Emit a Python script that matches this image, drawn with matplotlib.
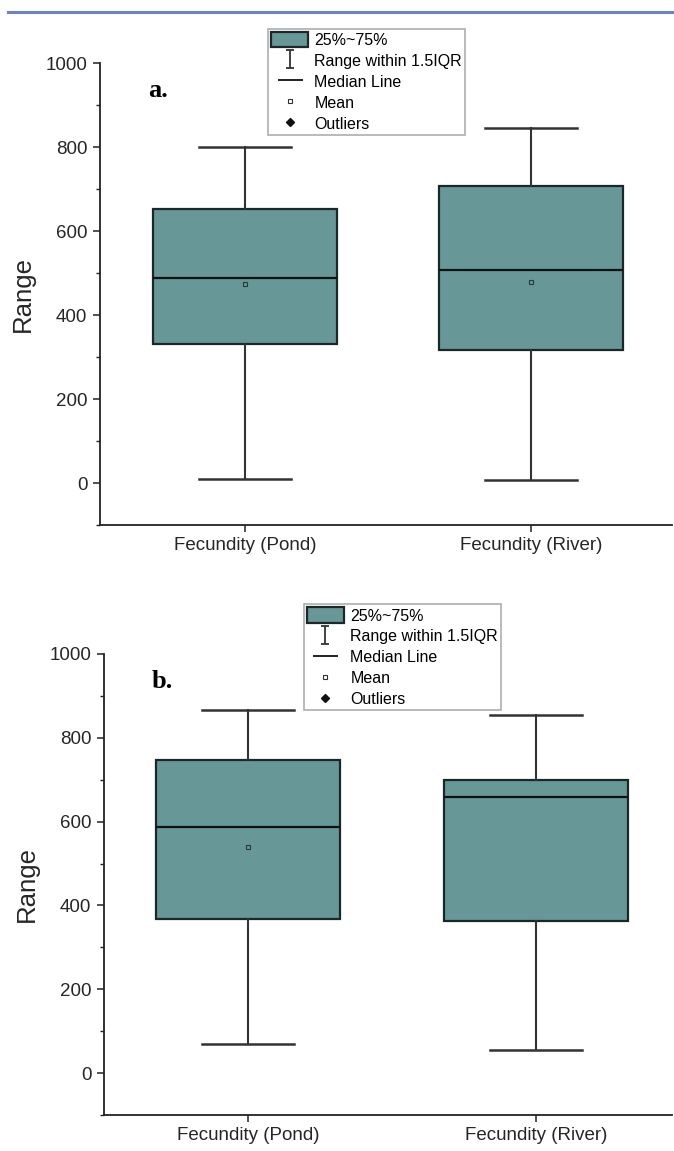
# Box plots of fecundity, pond vs river (panels a and b)
import numpy as np
import matplotlib.pyplot as plt
from matplotlib.patches import Patch
from matplotlib.lines import Line2D
from matplotlib.path import Path
from matplotlib.ticker import MultipleLocator

plt.rcParams['font.family'] = ['Liberation Sans', 'DejaVu Sans']

# data
groups = ['Fecundity (Pond)', 'Fecundity (River)']

a_whislo = [10, 6]
a_q1 = [330, 316]
a_med = [489, 506]
a_q3 = [653, 706]
a_whishi = [799, 845]
a_mean = [475, 478]

b_whislo = [69, 54]
b_q1 = [368, 364]
b_med = [588, 659]
b_q3 = [748, 699]
b_whishi = [866, 855]
b_mean = [540, np.nan]  # river mean marker not visible in panel b

legend_labels = ['25%~75%', 'Range within 1.5IQR', 'Median Line', 'Mean', 'Outliers']

box_color = '#679797'
edge_color = '#1c2828'
line_color = '#333333'


def make_stats(lo, q1, med, q3, hi, mean):
    out = []
    for i in range(len(groups)):
        out.append(dict(whislo=lo[i], q1=q1[i], med=med[i], q3=q3[i],
                        whishi=hi[i], mean=mean[i], fliers=[], label=groups[i]))
    return out


ibeam = Path([(-0.5, 1), (0.5, 1), (0, 1), (0, -1), (-0.5, -1), (0.5, -1)],
             [Path.MOVETO, Path.LINETO, Path.MOVETO, Path.LINETO, Path.MOVETO, Path.LINETO])


def draw_panel(ax, stats, letter, xlim, leg_anchor):
    ax.bxp(stats, positions=[1, 2], widths=0.64, capwidths=0.32,
           patch_artist=True, showmeans=True, showfliers=False,
           boxprops=dict(facecolor=box_color, edgecolor=edge_color, linewidth=1.6),
           medianprops=dict(color='#111111', linewidth=1.6, zorder=4),
           whiskerprops=dict(color=line_color, linewidth=1.5),
           capprops=dict(color=line_color, linewidth=1.8),
           meanprops=dict(marker='s', markersize=3.5, markerfacecolor='none',
                          markeredgecolor='#2a3a3a', markeredgewidth=0.8, zorder=3))
    ax.set_xlim(*xlim)
    ax.set_ylim(-100, 1000)
    ax.yaxis.set_major_locator(MultipleLocator(200))
    ax.yaxis.set_minor_locator(MultipleLocator(100))
    ax.set_xticks([1, 2])
    ax.set_xticklabels(groups)
    for s in ['top', 'right']:
        ax.spines[s].set_visible(False)
    for s in ['left', 'bottom']:
        ax.spines[s].set_color('#222222')
        ax.spines[s].set_linewidth(1.3)
    ax.tick_params(axis='both', which='major', direction='out', length=5, width=1.1,
                   color='#222222', labelsize=13.5, labelcolor='#262626', pad=4)
    ax.tick_params(axis='y', which='minor', direction='out', length=3, width=1.0, color='#222222')
    ax.tick_params(axis='x', which='minor', bottom=False)
    ax.set_ylabel('Range', fontsize=18.5, color='#262626', labelpad=8)
    ax.text(0.084, 0.94, letter, transform=ax.transAxes, fontsize=19,
            fontweight='bold', family='Liberation Serif', va='center', ha='left')

    handles = [
        Patch(facecolor=box_color, edgecolor=edge_color, linewidth=1.6),
        Line2D([], [], ls='none', marker=ibeam, markersize=12.5, markerfacecolor='none',
               markeredgecolor=line_color, markeredgewidth=1.3),
        Line2D([], [], ls='none', marker='_', markersize=18, markeredgecolor='#111111',
               markeredgewidth=1.3),
        Line2D([], [], ls='none', marker='s', markersize=3.5, markerfacecolor='none',
               markeredgecolor='#333333', markeredgewidth=0.8),
        Line2D([], [], ls='none', marker='D', markersize=4, markerfacecolor='#111111',
               markeredgecolor='#111111'),
    ]
    leg = ax.legend(handles, legend_labels, loc='upper left', bbox_to_anchor=leg_anchor,
                    borderaxespad=0, frameon=True, fancybox=False, fontsize=11.5,
                    handlelength=2.3, handleheight=1.1, handletextpad=0.4,
                    labelspacing=0.3, borderpad=0.2)
    leg.get_frame().set_edgecolor('#9a9a9a')
    leg.get_frame().set_linewidth(1.2)
    leg.set_zorder(10)


fig = plt.figure(figsize=(6.74, 11.51), dpi=100)

ax_a = fig.add_axes([100 / 674, 1 - 525 / 1151, 572 / 674, 462 / 1151])
draw_panel(ax_a, make_stats(a_whislo, a_q1, a_med, a_q3, a_whishi, a_mean),
           'a.', (0.493, 2.493), (0.294, 1.074))

ax_b = fig.add_axes([104 / 674, 1 - 1115 / 1151, 568 / 674, 461 / 1151])
draw_panel(ax_b, make_stats(b_whislo, b_q1, b_med, b_q3, b_whishi, b_mean),
           'b.', (0.5, 2.472), (0.352, 1.108))

# blue rule at the top of the page
fig.add_artist(Line2D([0.012, 1.0], [1 - 12 / 1151, 1 - 12 / 1151],
                      transform=fig.transFigure, color='#6c84c3', linewidth=2.2))

fig.savefig('out.png', dpi=100)
